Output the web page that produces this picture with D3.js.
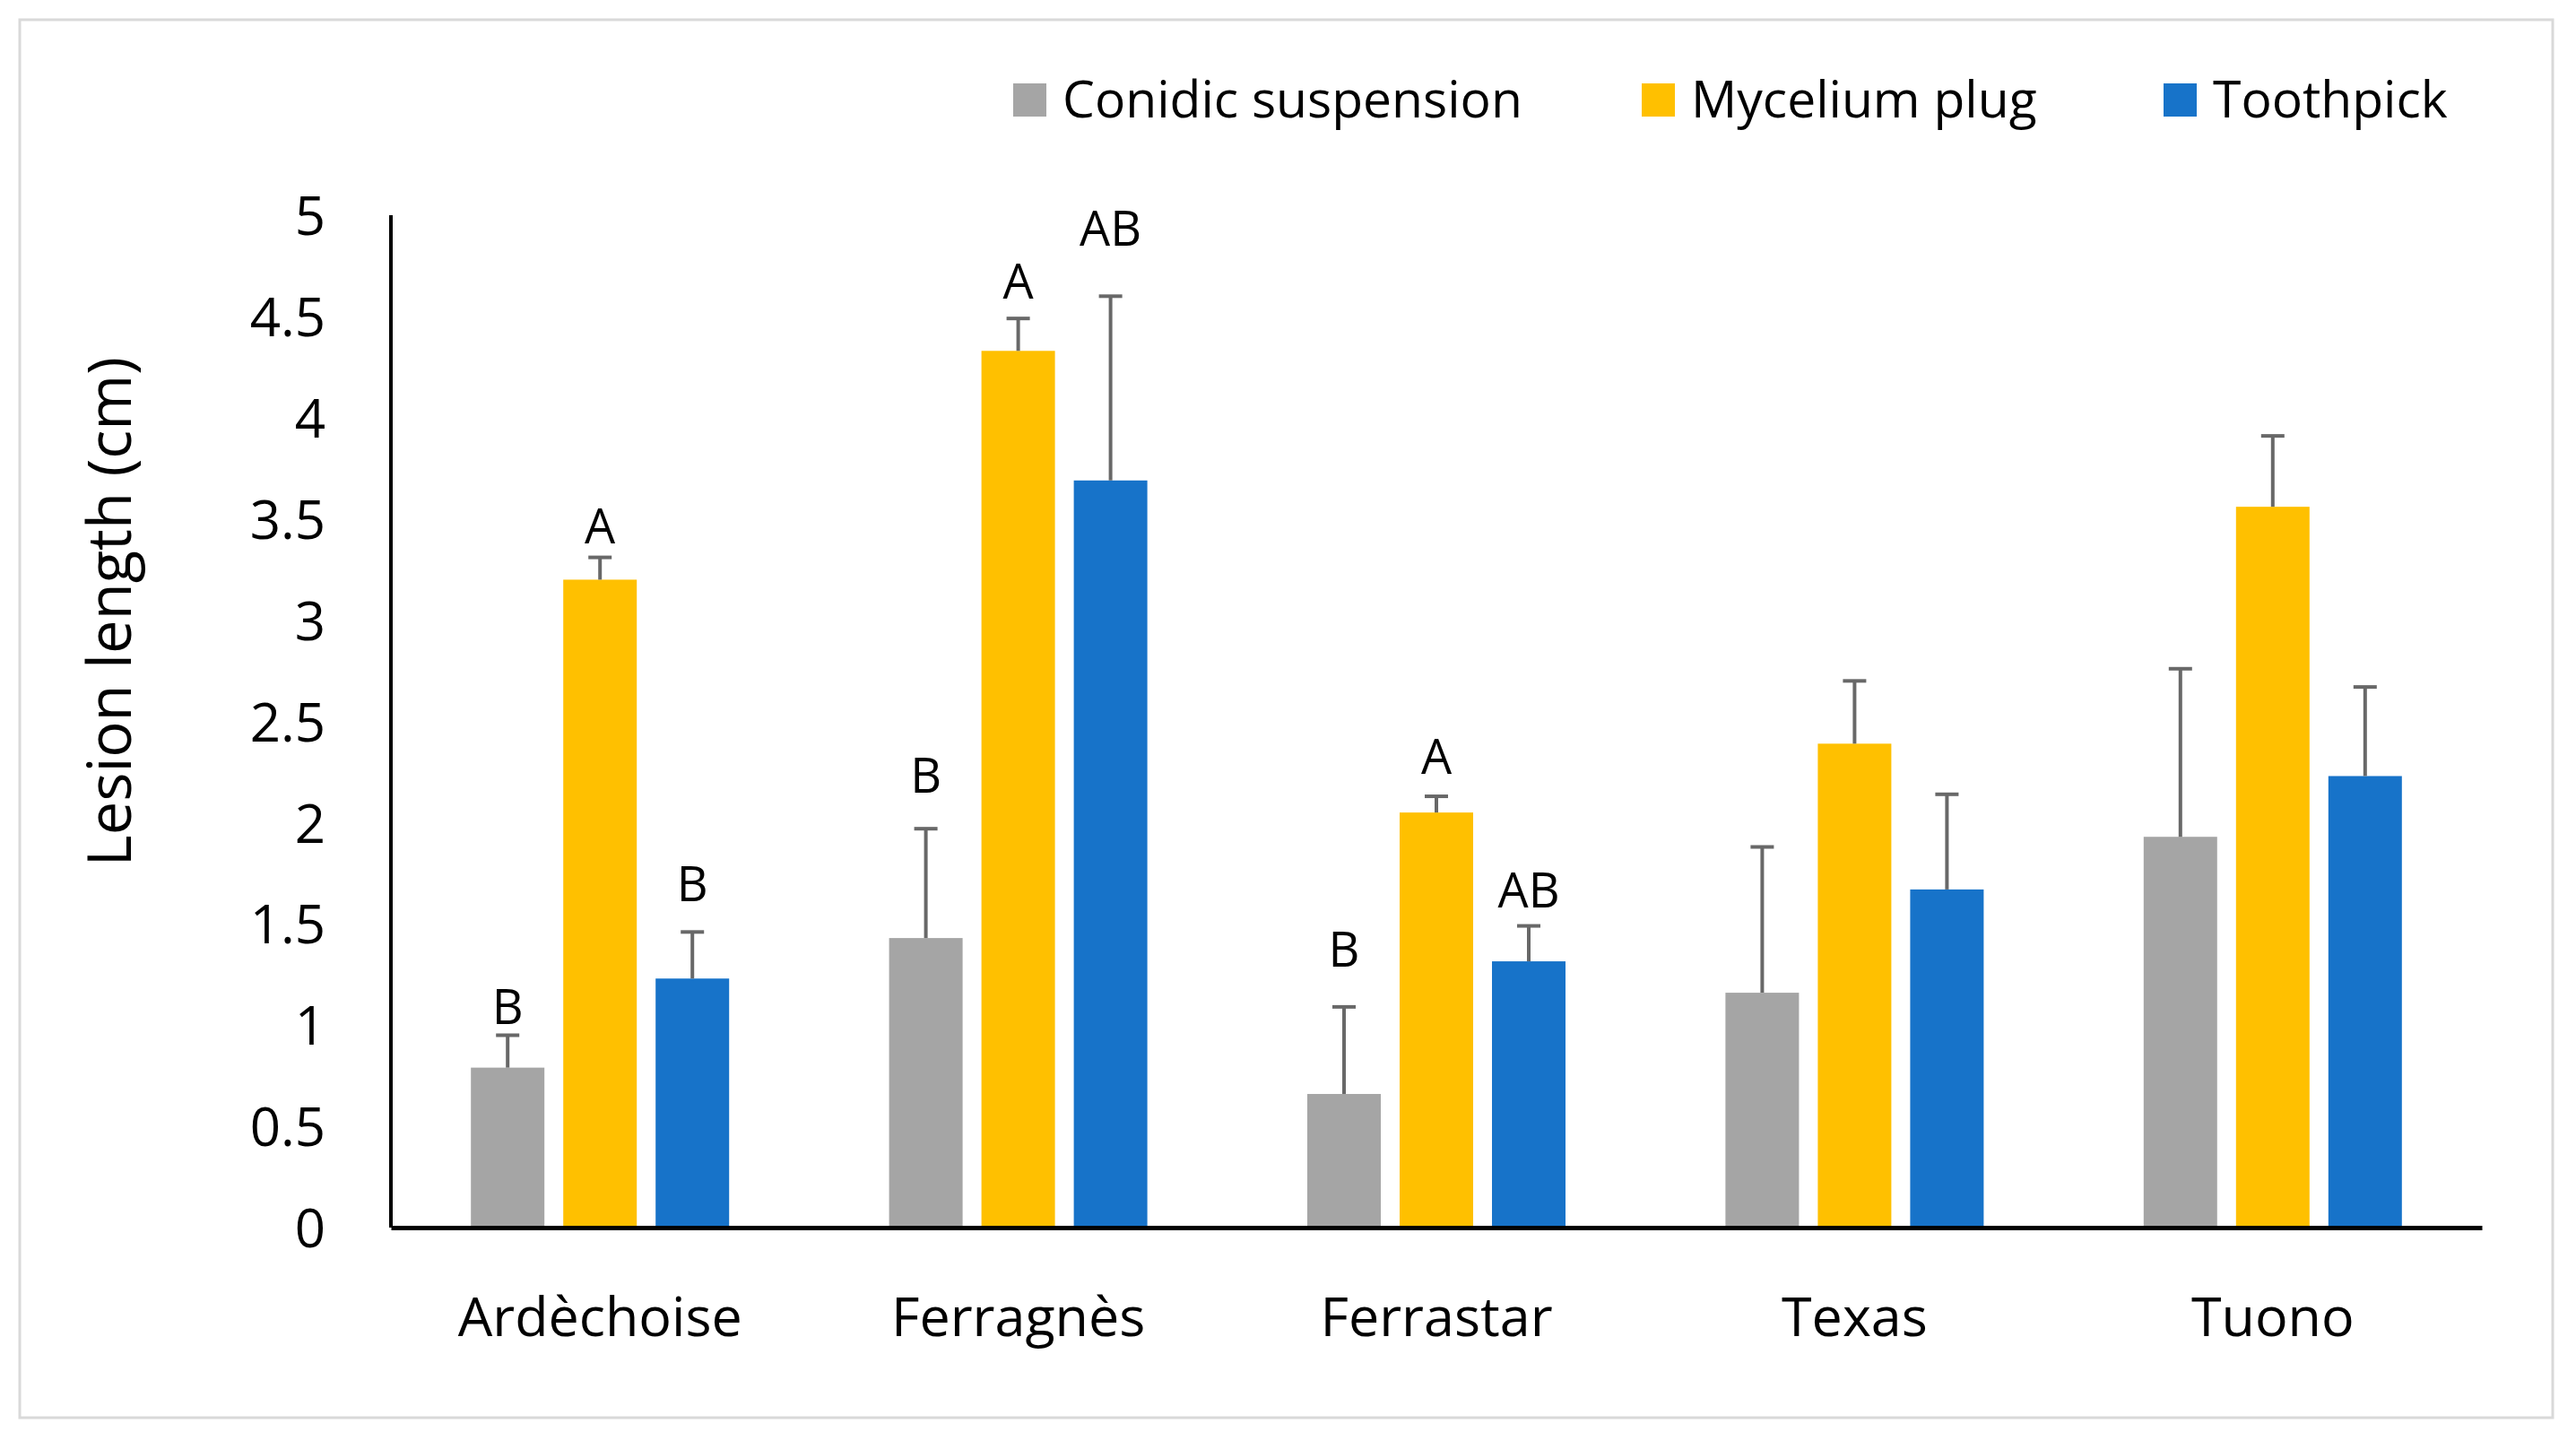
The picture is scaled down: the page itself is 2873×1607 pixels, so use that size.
<!DOCTYPE html>
<html>
<head>
<meta charset="utf-8">
<script src="https://cdn.jsdelivr.net/npm/d3@7"></script>
<style>
  body { margin: 0; background: #fff; }
  svg { display: block; }
</style>
</head>
<body>
<svg id="chart" width="2873" height="1607"></svg>
<script>
const cultivars = ['Ardèchoise', 'Ferragnès', 'Ferrastar', 'Texas', 'Tuono']
const methods = ['Conidic suspension', 'Mycelium plug', 'Toothpick']
const colors = ['#a5a5a5', '#ffc000', '#1773c9']

// mean lesion length per cultivar, one array per method
const conidic = [0.79, 1.43, 0.66, 1.16, 1.93]
const mycelium = [3.20, 4.33, 2.05, 2.39, 3.56]
const toothpick = [1.23, 3.69, 1.315, 1.67, 2.23]

// upper end of the error bars
const conidicErr = [0.95, 1.97, 1.09, 1.88, 2.76]
const myceliumErr = [3.31, 4.49, 2.13, 2.70, 3.91]
const toothpickErr = [1.46, 4.60, 1.49, 2.14, 2.67]

// significance letters and the value where each one sits
const conidicLetters = ['B', 'B', 'B', '', '']
const myceliumLetters = ['A', 'A', 'A', '', '']
const toothpickLetters = ['B', 'AB', 'AB', '', '']
const conidicLetterAt = [1.005, 2.15, 1.29, 0, 0]
const myceliumLetterAt = [3.38, 4.59, 2.24, 0, 0]
const toothpickLetterAt = [1.61, 4.85, 1.58, 0, 0]

const yTicks = [0, 0.5, 1, 1.5, 2, 2.5, 3, 3.5, 4, 4.5, 5]

const series = [
  { values: conidic, err: conidicErr, letters: conidicLetters, letterAt: conidicLetterAt },
  { values: mycelium, err: myceliumErr, letters: myceliumLetters, letterAt: myceliumLetterAt },
  { values: toothpick, err: toothpickErr, letters: toothpickLetters, letterAt: toothpickLetterAt }
]

const font = '"Open Sans", "Noto Sans", sans-serif'
const svg = d3.select('#chart')

svg.append('rect')
  .attr('x', 0).attr('y', 0).attr('width', 2873).attr('height', 1607)
  .attr('fill', '#fff')

svg.append('rect')
  .attr('x', 22).attr('y', 22).attr('width', 2825).attr('height', 1559)
  .attr('fill', 'none')
  .attr('stroke', '#d9d9d9')
  .attr('stroke-width', 3)

const plotLeft = 436
const plotRight = 2768
const plotTop = 240
const plotBottom = 1369

const x = d3.scaleBand().domain(cultivars).range([plotLeft, plotRight]).paddingInner(0).paddingOuter(0)
const y = d3.scaleLinear().domain([0, 5]).range([plotBottom, plotTop])
const xs = d3.scaleBand().domain(d3.range(methods.length)).range([-144, 144]).paddingInner(0.204)

// y tick labels
const yAxis = d3.axisLeft(y).tickValues(yTicks).tickSize(0).tickPadding(73).tickFormat(d3.format('~g'))
const yg = svg.append('g').attr('transform', `translate(${plotLeft},0)`).call(yAxis)
yg.select('.domain').remove()
yg.selectAll('text')
  .attr('font-family', font)
  .attr('font-size', 60)
  .attr('fill', '#000')
  .attr('dy', '0.36em')

// bars
series.forEach((s, i) => {
  const g = svg.append('g')
  g.selectAll('rect')
    .data(cultivars)
    .join('rect')
    .attr('x', d => x(d) + x.bandwidth() / 2 + xs(i))
    .attr('y', (d, j) => y(s.values[j]))
    .attr('width', xs.bandwidth())
    .attr('height', (d, j) => y(0) - y(s.values[j]))
    .attr('fill', colors[i])

  const cx = d => x(d) + x.bandwidth() / 2 + xs(i) + xs.bandwidth() / 2

  g.selectAll('line.err')
    .data(cultivars)
    .join('line')
    .attr('class', 'err')
    .attr('x1', cx).attr('x2', cx)
    .attr('y1', (d, j) => y(s.values[j]))
    .attr('y2', (d, j) => y(s.err[j]))
    .attr('stroke', '#686868')
    .attr('stroke-width', 4)

  g.selectAll('line.cap')
    .data(cultivars)
    .join('line')
    .attr('class', 'cap')
    .attr('x1', d => cx(d) - 13).attr('x2', d => cx(d) + 13)
    .attr('y1', (d, j) => y(s.err[j]))
    .attr('y2', (d, j) => y(s.err[j]))
    .attr('stroke', '#686868')
    .attr('stroke-width', 4)

  g.selectAll('text')
    .data(cultivars.filter((d, j) => s.letters[j]))
    .join('text')
    .attr('x', cx)
    .attr('y', d => y(s.letterAt[cultivars.indexOf(d)]))
    .attr('text-anchor', 'middle')
    .attr('font-family', font)
    .attr('font-size', 54)
    .attr('fill', '#000')
    .text(d => s.letters[cultivars.indexOf(d)])
})

// axis lines
svg.append('line')
  .attr('x1', plotLeft).attr('x2', plotLeft).attr('y1', plotTop).attr('y2', plotBottom)
  .attr('stroke', '#000').attr('stroke-width', 4)

const xAxis = d3.axisBottom(x).tickSize(0).tickPadding(78)
const xg = svg.append('g').attr('transform', `translate(0,${plotBottom})`).call(xAxis)
xg.select('.domain')
  .attr('stroke', '#000')
  .attr('stroke-width', 5)
xg.selectAll('text')
  .attr('font-family', font)
  .attr('font-size', 61)
  .attr('fill', '#000')

// y axis title
svg.append('text')
  .attr('transform', `translate(146,682) rotate(-90)`)
  .attr('text-anchor', 'middle')
  .attr('font-family', font)
  .attr('font-size', 67)
  .attr('fill', '#000')
  .text('Lesion length (cm)')

// legend
const legendX = [1130, 1831, 2413]
const legend = svg.append('g')
methods.forEach((m, i) => {
  legend.append('rect')
    .attr('x', legendX[i]).attr('y', 93)
    .attr('width', 37).attr('height', 37)
    .attr('fill', colors[i])
  legend.append('text')
    .attr('x', legendX[i] + 55).attr('y', 131)
    .attr('font-family', font)
    .attr('font-size', 57)
    .attr('fill', '#000')
    .text(m)
})
</script>
</body>
</html>
